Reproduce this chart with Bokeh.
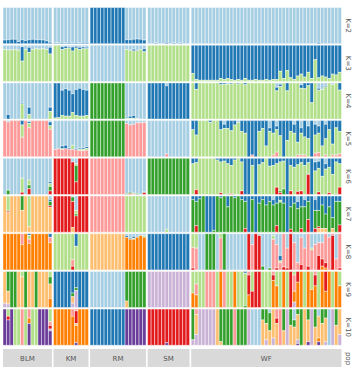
import numpy as np
from bokeh.plotting import figure
from bokeh.models import Range1d, ColumnDataSource
from bokeh.embed import file_html
from bokeh.resources import INLINE
from bokeh.core.properties import value

# ---------------- data ----------------
pops = ["BLM", "KM", "RM", "SM", "WF"]
pop_sizes = [14, 10, 16, 12, 43]
k_values = [2, 3, 4, 5, 6, 7, 8, 9, 10]
cluster_colors = ["#A6CEE3", "#1F78B4", "#B2DF8A", "#33A02C", "#FB9A99",
                  "#E31A1C", "#FDBF6F", "#FF7F00", "#CAB2D6", "#6A3D9A"]

# each entry: "cluster:percent ..." ; a bare "c" means 100% of cluster c
q_K2 = [
    "1:90 2:10", "1:89 2:11", "1:88 2:12", "1:88 2:12", "1:94 2:6", "1:89 2:11", "1:91 2:9",
    "1:89 2:11", "1:88 2:12", "1:89 2:11", "1:89 2:11", "1:90 2:10", "1:92 2:8", "1:96 2:4",
    "1:98 2:2", "1:98 2:2", "1:97 2:3", "1:98 2:2", "1:97 2:3", "1:98 2:2", "1:97 2:3", "1:98 2:2", "1:97 2:3", "1:97 2:3",
    "2", "2", "2", "2", "2", "2", "2", "2", "2", "2",
    "1:89 2:11", "1:89 2:11", "1:88 2:12", "1:87 2:13", "1:88 2:12", "1:90 2:10",
    "1", "1", "1:98 2:2", "1", "1", "1:97 2:3", "1", "1:98 2:2", "1", "1:98 2:2", "1", "1",
    "1", "1", "1", "1", "1", "1", "1", "1", "1", "1", "1", "1", "1", "1", "1",
    "1", "1", "1", "1", "1", "1", "1", "1", "1", "1", "1", "1", "1", "1", "1",
    "1", "1", "1", "1", "1", "1", "1:97 2:3", "1", "1", "1", "1", "1", "1",
]
q_K3 = [
    "1:12 3:88", "1:13 3:87", "1:13 3:87", "1:12 3:88", "1:14 3:86", "1:4 2:40 3:56", "1:12 3:88",
    "1:6 2:14 3:80", "1:12 3:88", "1:10 3:90", "1:11 3:89", "1:10 3:90", "1:12 3:88", "1:6 2:18 3:76",
    "3", "3", "1:4 2:8 3:88", "1:3 2:6 3:91", "1:5 2:3 3:92", "1:5 2:11 3:84", "1:3 2:5 3:92",
    "1:6 2:6 3:88", "1:5 2:5 3:90", "1:6 2:4 3:90",
    "1", "1", "1", "1", "1", "1", "1", "1", "1", "1",
    "1:12 3:88", "1:12 2:2 3:86", "1:11 2:5 3:84", "1:12 2:3 3:85", "1:12 3:88", "1:10 2:8 3:82",
    "3", "3", "3", "3", "3", "3", "3", "3", "3", "3", "3", "3",
    "2:78 3:22", "2:95 3:5", "2:97 3:3", "2:97 3:3", "2:97 3:3", "2:97 3:3", "2:97 3:3", "2:97 3:3",
    "2:92 3:8", "2:95 3:5", "2:92 3:8", "2:95 3:5", "2:97 3:3", "2:95 3:5", "2:97 3:3", "2:92 3:8",
    "2:97 3:3", "2:97 3:3", "2:95 3:5", "2:97 3:3", "2:97 3:3", "2:95 3:5", "2:97 3:3", "2:95 3:5",
    "2:95 3:5", "2:72 3:28", "2:92 3:8", "2:70 3:30", "2:90 3:10", "2:95 3:5", "2:85 3:15", "2:80 3:20",
    "2:88 3:12", "2:75 3:25", "2:92 3:8", "2:40 3:60", "2:90 3:10", "2:85 3:15", "2:88 3:12", "2:92 3:8",
    "2:80 3:20", "2:82 3:18", "2:75 3:25",
]
q_K4 = [
    "1", "1:87 2:13", "1", "1", "1", "1:55 2:3 3:42", "1", "1:67 2:20 3:13", "1", "1", "1", "1", "1", "1:67 2:12 3:21",
    "2:97 3:3", "2:96 3:4", "1:20 2:70 3:10", "1:16 2:76 3:8", "1:20 2:72 3:8", "1:30 2:52 3:18",
    "1:18 2:72 3:10", "1:15 2:77 3:8", "1:18 2:74 3:8", "1:20 2:70 3:10",
    "4", "4", "4", "4", "4", "4", "4", "4", "4", "4",
    "1:95 2:3 3:2", "1:92 2:6 3:2", "1:90 2:8 3:2", "1:98 3:2", "1", "1",
    "2", "2", "2", "2", "2", "1:8 2:92", "2", "2", "2", "2", "2", "2",
    "3", "2:18 3:82", "3", "3", "3", "3", "3", "3", "2:5 3:95", "2:4 3:96", "1:2 2:2 3:96",
    "2:3 3:97", "3", "2:3 3:97", "3", "2:5 3:95", "3", "3", "3", "3", "3", "3", "3", "3",
    "1:12 2:10 3:78", "1:4 2:6 3:90", "3", "2:22 3:78", "3", "3", "3", "1:5 2:10 3:85",
    "2:16 3:84", "2:8 3:92", "2:55 3:45", "3", "1:15 2:5 3:80", "1:18 3:82", "1:8 2:3 3:89",
    "3", "1:5 3:95", "3", "2:20 3:80",
]
q_K5 = [
    "5", "1:4 5:96", "5", "5", "5", "2:12 3:34 5:54", "5", "1:3 2:5 3:12 5:80", "5", "5", "5", "5", "5", "1:4 2:10 3:10 5:76",
    "1:80 5:20", "1:78 5:22", "1:70 2:8 3:2 5:20", "1:68 2:10 5:22", "1:76 2:3 5:21", "1:68 3:12 5:20",
    "1:78 2:3 5:19", "1:76 2:3 3:4 5:17", "1:76 2:4 3:3 5:17", "1:72 2:5 3:5 5:18",
    "4", "4", "4", "4", "4", "4", "4", "4", "4", "4",
    "1:8 5:92", "1:12 5:88", "1:10 5:90", "1:6 5:94", "1:6 5:94", "1:5 5:95",
    "1", "1", "1", "1", "1", "1:92 5:8", "1", "1", "1", "1", "1", "1",
    "2:25 3:75", "2:40 3:60", "3", "3", "3", "2:5 3:95", "3", "3", "2:25 3:75", "1:10 2:12 3:78",
    "2:22 3:78", "2:28 3:72", "2:12 3:88", "1:5 3:95", "2:30 3:70", "2:35 3:65", "2:100", "2:95 5:5",
    "2:100", "2:30 3:70", "2:22 3:78", "2:70 3:30", "1:20 2:10 3:70", "2:35 3:60 5:5",
    "1:15 2:10 3:62 5:13", "2:42 3:58", "2:100", "2:55 3:45", "2:30 3:70", "1:10 2:25 3:65",
    "2:60 3:35 5:5", "1:20 2:15 3:60 5:5", "2:45 3:50 5:5", "1:15 2:35 3:50", "2:100",
    "1:10 2:30 3:50 5:10", "1:15 2:20 3:53 5:12", "2:70 3:30", "1:10 2:40 3:45 5:5", "2:25 3:75",
    "2:65 3:30 5:5", "2:20 3:75 5:5", "2:30 3:62 5:8",
]
q_K6 = [
    "1", "1:88 4:12", "1", "1", "1", "1:55 3:39 6:6", "1", "1:60 3:14 4:10 6:16", "1", "1", "1", "1", "1",
    "1:65 2:5 3:8 4:12 6:10",
    "6", "6", "6", "6", "6", "1:10 6:90", "1:15 3:5 4:45 6:35", "6", "6", "6",
    "5", "5", "5", "5", "5", "5", "5", "5", "5", "5",
    "1:98 4:2", "1:94 4:4 6:2", "1:96 4:2 5:2", "1:97 4:3", "1", "1:93 4:2 6:5",
    "4", "4", "4", "4", "4", "4", "4", "4", "4", "4", "4", "4",
    "2:15 3:85", "2:12 3:75 6:13", "3", "3", "3", "3", "3", "2:5 3:95", "2:10 3:85 6:5", "2:8 3:92",
    "2:15 3:83 4:2", "2:20 3:78 6:2", "2:5 3:95", "3", "2:10 3:80 6:10", "2:100", "2:100", "2:20 3:80",
    "2:100", "2:18 3:82", "2:12 3:88", "3", "2:22 3:78", "2:20 3:80", "2:15 3:65 6:20",
    "2:10 3:80 4:5 6:5", "2:8 3:77 4:15", "2:100", "2:20 3:70 6:10", "2:25 3:75", "2:18 3:74 6:8",
    "2:12 3:78 6:10", "2:20 3:80", "2:12 3:30 4:3 6:55", "2:100", "1:10 2:25 3:65", "1:8 2:20 3:65 6:7",
    "2:50 3:50", "1:15 2:15 3:70", "2:25 3:70 6:5", "2:45 3:55", "2:10 3:88 4:2", "2:15 3:65 6:20",
]
q_K7 = [
    "7", "3:42 6:4 7:54", "7", "7", "7", "4:40 7:60", "7", "3:85 7:15", "7", "7", "7", "7", "7",
    "1:10 2:5 4:12 6:5 7:68",
    "6", "6", "6", "6", "6", "1:3 4:12 6:72 7:13", "1:40 3:10 4:5 6:45", "6", "6", "6",
    "5", "5", "5", "5", "5", "5", "5", "5", "5", "5",
    "3", "3", "3", "3", "3", "3",
    "1", "1", "1", "1", "1", "1:92 3:8", "1", "1", "1", "1", "1", "1",
    "2:10 4:90", "2:15 4:67 6:18", "2:8 4:92", "4", "2:100", "2:100", "2:95 4:5", "4", "2:5 4:95", "4",
    "2:30 4:70", "4", "2:5 4:95", "4", "2:10 4:90", "2:15 4:75 6:10", "2:100", "2:10 4:90", "2:100",
    "2:20 4:80", "2:10 4:90", "2:25 4:75", "2:15 4:85", "1:10 2:15 4:75", "2:20 4:62 6:18",
    "2:12 3:5 4:83", "2:20 4:80", "2:100", "2:30 4:62 6:8", "2:20 4:80", "1:15 2:20 4:65",
    "2:30 4:60 6:10", "1:10 2:20 4:70", "2:15 4:50 6:35", "2:100", "1:10 2:30 4:50 6:10",
    "2:40 4:45 6:5 7:10", "2:25 4:65 7:10", "2:50 4:40 7:10", "2:30 4:70", "2:60 4:30 7:10",
    "2:15 4:85", "2:15 4:65 6:20",
]
q_K8 = [
    "8", "8", "8", "8", "8", "5:30 8:70", "8", "2:5 3:10 5:12 8:73", "8", "8", "8", "8", "8", "2:10 5:15 8:75",
    "3", "3", "3", "3", "3", "3:72 5:18 6:10", "2:35 3:65", "3", "3", "3",
    "7", "7", "7", "7", "7", "7", "7", "7", "7", "7",
    "1:5 2:5 8:90", "1:12 2:3 8:85", "1:8 2:5 3:2 8:85", "1:10 8:90", "1:5 8:95", "1:5 3:5 8:90",
    "2", "2", "2", "2", "2", "2", "2", "2", "2", "2", "2", "2",
    "3:38 5:57 6:5", "3:40 5:60", "1", "1", "4", "4", "4", "1", "3:12 5:88", "4",
    "1", "1", "1", "1", "1", "1", "6", "1:30 5:70", "6", "1:5 6:95",
    "1:90 4:10", "1", "1:95 4:5", "1:5 3:10 5:85", "1:30 5:65 6:5", "1:60 2:15 3:5 5:20",
    "5:92 6:8", "1:40 5:55 6:5", "6", "1:25 5:75", "1:80 5:20", "1:10 5:75 6:15", "1:40 5:60",
    "5:90 6:10", "1:40 3:5 5:55", "1:30 5:70", "1:25 5:35 6:40", "1:25 5:45 6:20 8:10",
    "5:80 6:15 8:5", "1:10 5:90", "5:5 6:95", "1:70 5:30", "5:95 6:5",
]
q_K9 = [
    "7:88 9:12", "4:55 7:35 9:10", "4", "4", "7", "3:15 7:85", "4", "7", "7", "4", "7", "7", "7",
    "3:15 4:20 7:40 8:25",
    "2", "2", "2", "2", "2", "2:60 4:10 7:18 9:12", "2:45 4:8 9:47", "2", "2", "2",
    "1", "1", "1", "1", "1", "1", "1", "1", "1", "1",
    "4:82 7:18", "4", "4", "4", "4", "4",
    "9", "9", "9", "9", "9", "9", "9", "9", "9", "9", "9", "9",
    "3:60 8:40", "3:35 5:30 8:35", "3", "3", "5", "5", "5", "3", "8", "5", "3", "3", "8", "3", "3",
    "2:5 3:90 4:5", "5:10 6:55 8:35", "3:55 6:45", "6", "6", "3", "3", "3", "5:10 6:15 8:75",
    "3:40 8:60", "3", "8", "3", "6", "3:10 5:45 8:30 9:15", "6:30 8:70", "8", "3", "8",
    "3:50 8:50", "5:10 6:30 8:60", "3", "8", "6:55 8:45", "8", "3", "8", "3:40 8:60",
]
q_K10 = [
    "10", "3:20 6:10 10:70", "10", "3", "3", "5", "3", "5:25 8:15 10:60", "3", "3", "10", "10", "10",
    "3:35 5:10 6:10 9:5 10:40",
    "8", "8", "8", "8", "8", "5:20 8:80", "5:5 6:35 7:5 8:48 10:7", "8", "8", "8",
    "2", "2", "2", "2", "2", "2", "2", "2", "2", "2",
    "10", "10", "10", "10", "10", "10",
    "6", "6", "6", "6", "6", "6:93 10:7", "6", "6", "6", "6", "6", "6",
    "4:85 9:15", "5:15 7:55 9:30", "9", "9", "9", "9", "9", "7", "4:90 7:10", "4", "4", "4", "5",
    "4", "4", "4", "9", "1", "1", "1", "4:30 7:70", "4:40 7:45 9:15", "1:10 4:50 7:40",
    "7:80 9:20", "5:25 6:15 7:60", "5", "4:60 7:40", "9", "4:45 7:55", "1:30 4:20 7:50",
    "4:15 7:70 9:10 10:5", "4", "7", "4:30 7:60 10:10", "9", "4:50 7:50", "1:20 7:60 8:10 10:10",
    "4:40 7:60", "4:25 7:65 9:10", "1", "9", "4:45 7:55", "7:70 9:30",
]
q_rows = [q_K2, q_K3, q_K4, q_K5, q_K6, q_K7, q_K8, q_K9, q_K10]

# ---------------- layout ----------------
W, H = 355, 367
left_px, right_px = 2.5, 341.0
top_px = 7.0
panel_h_px = 36.2
row_pitch_px = 37.7
gap_px = 1.6
strip_top_px = 348.5
n_total = sum(pop_sizes)
unit = (right_px - left_px - gap_px * (len(pops) - 1)) / n_total
gap_u = gap_px / unit
x_start = -left_px / unit
x_end = x_start + W / unit
y_end = top_px / panel_h_px
y_start = y_end - H / panel_h_px
row_pitch_u = row_pitch_px / panel_h_px


def px_x(px):
    return x_start + px / unit


def px_y(px):
    return y_end - px / panel_h_px


def parse(s):
    d = {}
    for tok in s.split():
        if ":" in tok:
            c, f = tok.split(":")
            d[int(c)] = float(f)
        else:
            d[int(tok)] = 100.0
    return d


# x position of each individual
ind_left = []
pop_bounds = []
cur = 0.0
for size in pop_sizes:
    pop_bounds.append((cur, cur + size))
    for j in range(size):
        ind_left.append(cur + j)
    cur += size + gap_u

L, R, T, B, C = [], [], [], [], []
for r, q in enumerate(q_rows):
    row_top = -r * row_pitch_u
    for i, s in enumerate(q):
        d = parse(s)
        tot = sum(d.values())
        y = row_top
        for c in sorted(d):
            h = d[c] / tot
            L.append(ind_left[i]); R.append(ind_left[i] + 1)
            T.append(y); B.append(y - h)
            C.append(cluster_colors[c - 1])
            y -= h

p = figure(width=W, height=H, x_range=Range1d(x_start, x_end), y_range=Range1d(y_start, y_end),
           output_backend="svg", toolbar_location=None, x_axis_location=None, y_axis_location=None,
           min_border=0, min_border_left=0, min_border_right=0, min_border_top=0, min_border_bottom=0)
p.outline_line_color = None
p.grid.visible = False
p.background_fill_color = "white"
p.border_fill_color = "white"

src = ColumnDataSource(dict(left=L, right=R, top=T, bottom=B, color=C))
p.quad(left="left", right="right", top="top", bottom="bottom", fill_color="color",
       line_color="white", line_width=0.6, line_alpha=0.75, source=src)

# bottom strips
sl = [b[0] for b in pop_bounds]
sr = [b[1] for b in pop_bounds]
p.quad(left=sl, right=sr, top=[px_y(strip_top_px)] * len(pops), bottom=[y_start - 1] * len(pops),
       fill_color="#D9D9D9", line_color=None)
p.text(x=[(a + b) / 2 for a, b in pop_bounds], y=[px_y(358)] * len(pops), text=pops,
       text_align="center", text_baseline="middle", text_font_size="7px",
       text_color="#555555", text_font=value("DejaVu Sans"))

# right strips
p.text(x=[px_x(347)] * len(k_values), y=[-r * row_pitch_u - 0.5 for r in range(len(k_values))],
       text=[f"K={k}" for k in k_values], angle=-np.pi / 2,
       text_align="center", text_baseline="middle", text_font_size="7px",
       text_color="#555555", text_font=value("DejaVu Sans"))
p.text(x=[px_x(347)], y=[px_y(358)], text=["pop"], angle=-np.pi / 2,
       text_align="center", text_baseline="middle", text_font_size="7px",
       text_color="#555555", text_font=value("DejaVu Sans"))

open("out.html", "w").write(file_html(p, INLINE))
